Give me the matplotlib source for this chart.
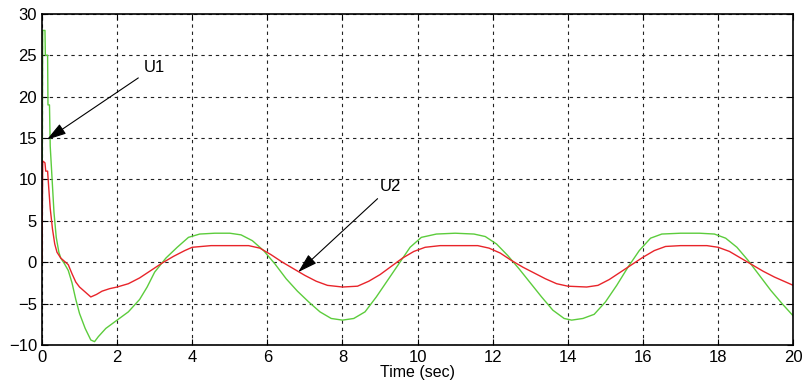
import numpy as np
import matplotlib.pyplot as plt

plt.rcParams['font.family'] = ['Liberation Sans', 'DejaVu Sans']

# U1 (green)
t_u1 = [0, 0.02, 0.03, 0.08, 0.09, 0.15, 0.16, 0.2, 0.22, 0.27, 0.32, 0.38, 0.45, 0.5, 0.6, 0.7,
        0.8, 0.9, 1.0, 1.15, 1.3, 1.4, 1.5, 1.7, 2.0, 2.3, 2.6, 2.8, 3.0, 3.3, 3.6, 3.9, 4.2,
        4.6, 5.0, 5.3, 5.6, 5.9, 6.2, 6.5, 6.8, 7.1, 7.4, 7.7, 8.0, 8.3, 8.6, 8.9, 9.2, 9.5,
        9.8, 10.1, 10.5, 11.0, 11.5, 11.8, 12.1, 12.4, 12.7, 13.0, 13.3, 13.6, 13.9, 14.1,
        14.4, 14.7, 15.0, 15.3, 15.6, 15.9, 16.2, 16.5, 17.0, 17.5, 17.9, 18.2, 18.5, 18.8,
        19.1, 19.4, 19.7, 20.0]
u1 = [0, 28, 28, 28, 25, 25, 19, 19, 14, 10, 6, 3, 1.2, 0.5, -0.2, -1,
      -2.5, -4.5, -6.2, -8, -9.4, -9.6, -9, -8, -7, -6, -4.5, -3, -1.2, 0.5, 1.8, 3, 3.4,
      3.5, 3.5, 3.3, 2.6, 1.4, -0.2, -2, -3.5, -4.8, -6, -6.8, -7, -6.8, -6, -4.2, -2.2, -0.2,
      1.8, 3, 3.4, 3.5, 3.4, 3.1, 2.2, 0.8, -0.8, -2.5, -4.2, -5.8, -6.8, -7,
      -6.8, -6.3, -4.8, -2.8, -0.6, 1.4, 2.9, 3.4, 3.5, 3.5, 3.4, 2.9, 1.8, 0.2,
      -1.6, -3.4, -5, -6.5]

# U2 (red)
t_u2 = [0, 0.02, 0.03, 0.08, 0.1, 0.15, 0.18, 0.22, 0.28, 0.34, 0.4, 0.5, 0.6, 0.7, 0.8,
        0.9, 1.0, 1.15, 1.3, 1.45, 1.6, 1.8, 2.0, 2.3, 2.6, 2.9, 3.2, 3.5, 3.8, 4.0, 4.5,
        5.0, 5.5, 5.8, 6.1, 6.4, 6.7, 7.0, 7.3, 7.6, 8.0, 8.4, 8.7, 9.0, 9.3, 9.6, 9.9,
        10.2, 10.6, 11.0, 11.6, 11.9, 12.2, 12.5, 12.8, 13.1, 13.4, 13.7, 14.0, 14.5,
        14.8, 15.1, 15.4, 15.7, 16.0, 16.3, 16.6, 17.0, 17.7, 18.0, 18.3, 18.6, 18.9,
        19.2, 19.5, 19.8, 20.0]
u2 = [0, 12, 12.2, 12, 11, 11, 9, 6.5, 4, 2.2, 1.2, 0.5, 0.1, -0.3, -1.4,
      -2.4, -3, -3.6, -4.2, -3.9, -3.5, -3.2, -3, -2.6, -1.9, -1, -0.1, 0.7, 1.4, 1.8, 2,
      2, 2, 1.7, 0.9, 0, -0.8, -1.6, -2.3, -2.8, -3, -2.9, -2.3, -1.5, -0.5, 0.5, 1.3,
      1.8, 2, 2, 2, 1.7, 1.1, 0.2, -0.6, -1.3, -2, -2.6, -2.9, -3,
      -2.8, -2.1, -1.2, -0.3, 0.6, 1.4, 1.9, 2, 2, 1.8, 1.3, 0.5, -0.3,
      -1.1, -1.8, -2.4, -2.8]

xticks = np.arange(0, 21, 2)
yticks = np.arange(-10, 31, 5)

fig = plt.figure(figsize=(8.07, 3.85), dpi=100)
ax = fig.add_axes([0.052, 0.104, 0.931, 0.86])
ax.plot(t_u1, u1, color='#5ccc3c', lw=1.0)
ax.plot(t_u2, u2, color='#e8242a', lw=1.0)

ax.set_xlim(0, 20)
ax.set_ylim(-10, 30)
ax.set_xticks(xticks)
ax.set_yticks(yticks)
ax.tick_params(direction='in', labelsize=12, length=4, top=True, right=True)
ax.grid(True, color='#222222', linestyle=(0, (3, 3.5)), lw=0.8)
for s in ax.spines.values():
    s.set_linewidth(1.2)
ax.set_xlabel('Time (sec)', fontsize=11.5, labelpad=0)

arrow = dict(arrowstyle='-|>,head_length=1.0,head_width=0.3',
             color='black', lw=0.8, shrinkA=2, shrinkB=0)
ax.annotate('U1', xy=(0.13, 14.8), xytext=(2.7, 23.0), fontsize=12, arrowprops=arrow)
ax.annotate('U2', xy=(6.82, -1.2), xytext=(9.0, 8.6), fontsize=12, arrowprops=arrow)

fig.savefig('out.png', dpi=100)
